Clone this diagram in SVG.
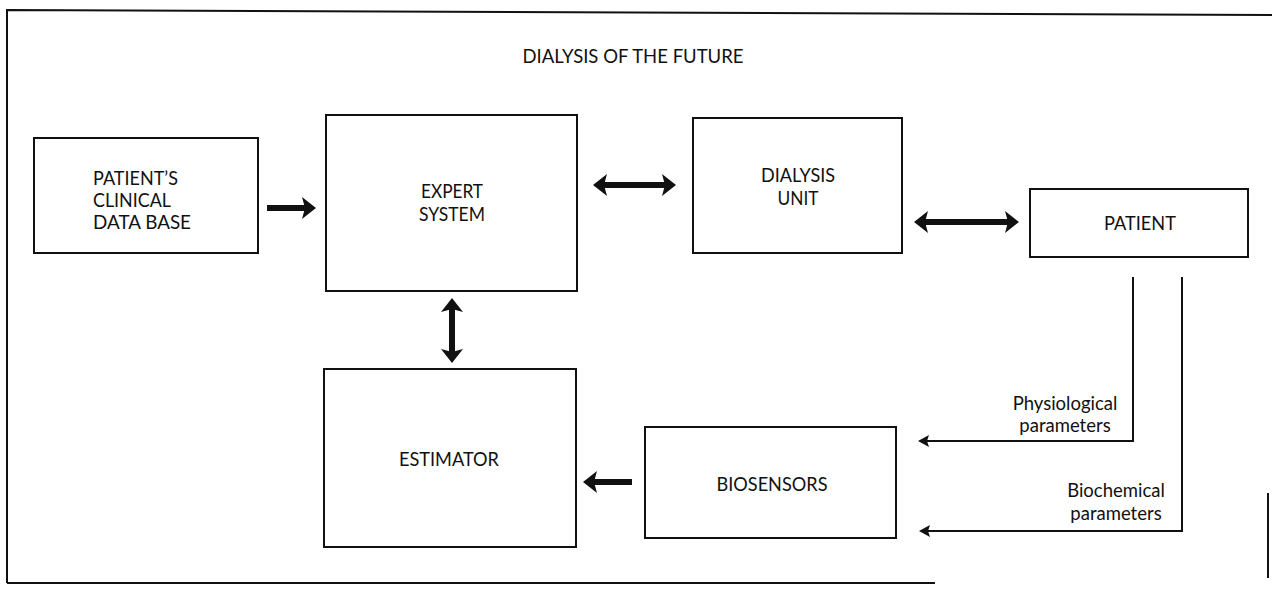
<svg xmlns="http://www.w3.org/2000/svg" width="1272" height="589" viewBox="0 0 1272 589">
<style>
.box{fill:#fff;stroke:#111;stroke-width:2}
.frame{fill:none;stroke:#111;stroke-width:2}
.t{font-family:Lato,"Liberation Sans",sans-serif;font-size:19px;fill:#111}
.c{text-anchor:middle}
.lc{font-family:Lato,"Liberation Sans",sans-serif;font-size:18.5px;fill:#111;text-anchor:middle}
.thick{stroke:#111;stroke-width:6;fill:none}
.thin{stroke:#111;stroke-width:2;fill:none}
</style>
<defs>
<marker id="hd" markerUnits="userSpaceOnUse" viewBox="0 0 14 22" markerWidth="14" markerHeight="22" refX="7" refY="11" orient="auto-start-reverse">
<path d="M0,0 L14,11 L0,22 L3,11 Z" fill="#111"/>
</marker>
<marker id="th" markerUnits="userSpaceOnUse" viewBox="0 0 11 12" markerWidth="11" markerHeight="12" refX="6" refY="6" orient="auto">
<path d="M0,0 L11,6 L0,12 L2,6 Z" fill="#111"/>
</marker>
</defs>
<rect x="0" y="0" width="1272" height="589" fill="#fff"/>
<g id="frame">
<path class="frame" d="M7,583 L7,10 L1272,15"/>
<path class="frame" d="M7,583 L935,583"/>
<path class="frame" d="M1268,493 L1268,578"/>
</g>
<text id="title" class="t c" x="633" y="63" textLength="221" lengthAdjust="spacingAndGlyphs">DIALYSIS OF THE FUTURE</text>
<g id="patient-db">
<rect class="box" x="34" y="138" width="224" height="115"/>
<text class="t" x="93" y="185" textLength="85" lengthAdjust="spacingAndGlyphs">PATIENT’S</text>
<text class="t" x="93" y="207" textLength="78" lengthAdjust="spacingAndGlyphs">CLINICAL</text>
<text class="t" x="93" y="229" textLength="98" lengthAdjust="spacingAndGlyphs">DATA BASE</text>
</g>
<g id="expert-system">
<rect class="box" x="326" y="115" width="251" height="176"/>
<text class="t c" x="452" y="198" textLength="62" lengthAdjust="spacingAndGlyphs">EXPERT</text>
<text class="t c" x="452" y="221" textLength="66" lengthAdjust="spacingAndGlyphs">SYSTEM</text>
</g>
<g id="dialysis-unit">
<rect class="box" x="693" y="118" width="209" height="135"/>
<text class="t c" x="798" y="182" textLength="74" lengthAdjust="spacingAndGlyphs">DIALYSIS</text>
<text class="t c" x="798" y="205" textLength="41" lengthAdjust="spacingAndGlyphs">UNIT</text>
</g>
<g id="patient">
<rect class="box" x="1030" y="189" width="218" height="68"/>
<text class="t c" x="1140" y="230" textLength="72" lengthAdjust="spacingAndGlyphs">PATIENT</text>
</g>
<g id="estimator">
<rect class="box" x="324" y="369" width="252" height="178"/>
<text class="t c" x="449" y="466" textLength="100" lengthAdjust="spacingAndGlyphs">ESTIMATOR</text>
</g>
<g id="biosensors">
<rect class="box" x="645" y="427" width="251" height="111"/>
<text class="t c" x="772" y="491" textLength="111" lengthAdjust="spacingAndGlyphs">BIOSENSORS</text>
</g>
<g id="connectors">
<line class="thick" x1="267" y1="208" x2="309" y2="208" marker-end="url(#hd)"/>
<line class="thick" x1="600" y1="185" x2="669" y2="185" marker-start="url(#hd)" marker-end="url(#hd)"/>
<line class="thick" x1="921" y1="222" x2="1012" y2="222" marker-start="url(#hd)" marker-end="url(#hd)"/>
<line class="thick" x1="452" y1="305" x2="452" y2="356" marker-start="url(#hd)" marker-end="url(#hd)"/>
<line class="thick" x1="632" y1="482" x2="590" y2="482" marker-end="url(#hd)"/>
<path class="thin" d="M1133,277 V441 H923" marker-end="url(#th)"/>
<path class="thin" d="M1182,277 V531 H924" marker-end="url(#th)"/>
<text class="lc" x="1065" y="410">Physiological</text>
<text class="lc" x="1065" y="432">parameters</text>
<text class="lc" x="1116" y="497">Biochemical</text>
<text class="lc" x="1116" y="520">parameters</text>
</g>
</svg>
